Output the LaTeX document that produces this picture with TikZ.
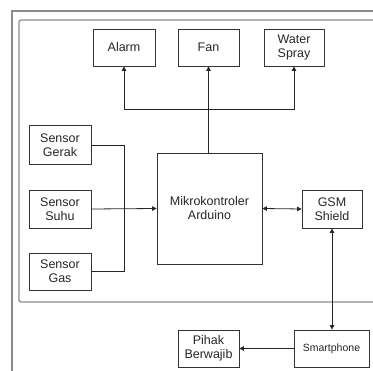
\documentclass[tikz,border=0pt]{standalone}
\usepackage{fontspec}
\setmainfont{Liberation Sans}
\usetikzlibrary{arrows.meta}
\begin{document}
\begin{tikzpicture}[x=1pt,y=-1pt,
  blk/.style={draw=black!80,line width=0.8pt,inner sep=0pt,align=center,
    font=\fontsize{12.5}{14}\selectfont,text=black!85},
  conn/.style={draw=black!85,line width=0.8pt},
  tip/.style={-{Triangle[width=4.5pt,length=4.5pt]}},
  frame/.style={draw=black!45,line width=1.3pt}]
\useasboundingbox (0,0) rectangle (373,371);
% frames
\draw[frame] (12,372) -- (12,11) -- (380,11);
\draw[frame,rounded corners=2pt] (380,302) -- (19,302) -- (19,20) -- (380,20);
% nodes
\node[blk,minimum width=62,minimum height=37] (alarm) at (124,47.5) {Alarm};
\node[blk,minimum width=61,minimum height=37] (fan) at (208.5,47.5) {Fan};
\node[blk,minimum width=60,minimum height=37] (water) at (294,47.5) {Water\\Spray};
\node[blk,minimum width=62,minimum height=39] (gerak) at (60,145) {Sensor\\Gerak};
\node[blk,minimum width=62,minimum height=38] (suhu) at (60,209) {Sensor\\Suhu};
\node[blk,minimum width=62,minimum height=37] (gas) at (60,271.5) {Sensor\\Gas};
\node[blk,minimum width=105,minimum height=111] (mikro) at (209.5,208.5) {Mikrokontroler\\Arduino};
\node[blk,minimum width=60,minimum height=38] (gsm) at (332,209) {GSM\\Shield};
\node[blk,minimum width=75,minimum height=37,font=\fontsize{10.5}{12}\selectfont] (smart) at (331.5,348.5) {Smartphone};
\node[blk,minimum width=61,minimum height=37] (pihak) at (208.5,348.5) {Pihak\\Berwajib};
% connectors
\coordinate (jl) at (124,109);
\coordinate (jr) at (294,109);
\coordinate (js) at (124,209);
\draw[conn,tip] (mikro.north -| fan) -- (fan.south);
\draw[conn,tip] (jl) -- (jr -| water) -- (water.south);
\draw[conn,tip] (jl) -- (alarm.south);
\draw[conn] (gerak.east) -| (js);
\draw[conn] (gas.east) -| (js);
\draw[conn,tip] (suhu.east) -- (mikro.west);
\draw[conn,{Triangle[width=4.5pt,length=4.5pt]}-{Triangle[width=4.5pt,length=4.5pt]}] (mikro.east) -- (gsm.west);
\draw[conn,{Triangle[width=4.5pt,length=4.5pt]}-{Triangle[width=4.5pt,length=4.5pt]}] (gsm.south) -- (gsm.south |- smart.north);
\draw[conn,tip] (smart.west) -- (pihak.east);
\end{tikzpicture}
\end{document}
